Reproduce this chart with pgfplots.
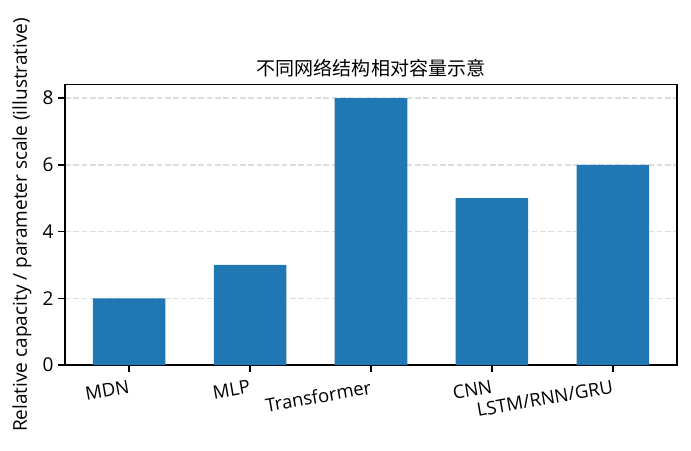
\documentclass[border=0pt]{standalone}
\usepackage{fontspec}
\setmainfont{Open Sans}
\newfontfamily\cjk{Noto Sans CJK SC}
\usepackage{pgfplots}
\pgfplotsset{compat=1.18}
\definecolor{barblue}{HTML}{1F77B4}
\definecolor{gridgray}{HTML}{DDDDDD}
\pgfplotsset{
  layers/mylayers/.define layer set={axis background,axis grid,pre main,main,axis ticks,axis lines,axis tick labels,axis descriptions,axis foreground}{},
}
\begin{document}
\begin{tikzpicture}
\path (0,0) rectangle (497.52pt,324pt);
\begin{axis}[
  set layers=mylayers,
  at={(46.8pt,61.2pt)}, anchor=south west,
  scale only axis, width=440.64pt, height=201.8pt,
  xmin=-0.53, xmax=4.53, ymin=0, ymax=8.4,
  ybar, bar width=0.6,
  xtick={0,1,2,3,4},
  xticklabels={MDN,MLP,Transformer,CNN,LSTM/RNN/GRU},
  ytick={0,2,4,6,8},
  tick align=outside, major tick length=4.8pt,
  xtick pos=bottom, ytick pos=left,
  tick style={black, line width=1.1pt},
  axis line style={black, line width=1.1pt},
  ymajorgrids,
  grid style={gridgray, dash pattern=on 4.1pt off 1.9pt, line width=1.1pt},
  yticklabel style={font=\fontsize{13.7}{16}\selectfont},
  /pgf/number format/assume math mode=true,
  xticklabel style={font=\fontsize{13.3}{16}\selectfont, rotate=10, anchor=north east, inner sep=1pt},
  xticklabel shift=4.5pt,
  ylabel={Relative capacity / parameter scale (illustrative)},
  ylabel style={at={(axis description cs:-0.06218,0.5)}, anchor=base, font=\fontsize{13.7}{16}\selectfont},
  every axis title shift=0pt,
  title={不同网络结构相对容量示意},
  title style={at={(axis description cs:0.5,1.0327)}, anchor=base, font=\cjk\fontsize{13.7}{16}\selectfont},
]
\addplot[fill=barblue, draw=none] coordinates {(0,2) (1,3) (2,8) (3,5) (4,6)};
\end{axis}
\end{tikzpicture}
\end{document}
